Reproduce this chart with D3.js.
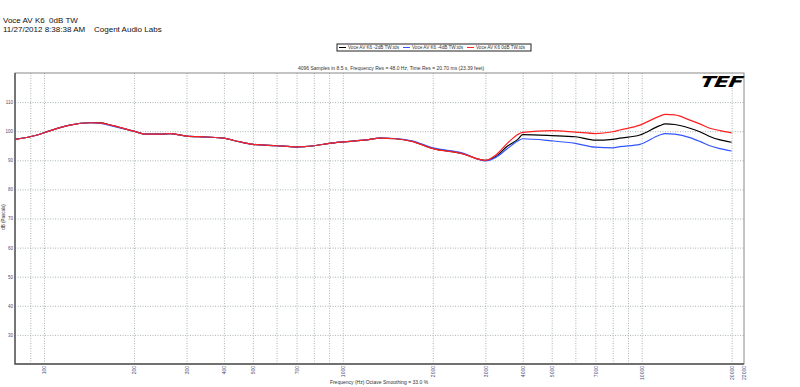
<!DOCTYPE html>
<html>
<head>
<meta charset="utf-8">
<script src="https://cdn.jsdelivr.net/npm/d3@7"></script>
<style>
  body { margin: 0; background: #fff; }
  svg { display: block; font-family: "Liberation Sans", Arial, sans-serif; }
</style>
</head>
<body>
<div id="chart"></div>
<script>
// frequency points (Hz) shared by the three traces
var freqs = [80, 95, 105, 122, 143, 155, 166, 200, 218, 245, 264, 300, 350, 400, 450, 500,
  600, 700, 800, 900, 1000, 1200, 1330, 1500, 1700, 2000, 2500, 3000, 3250, 3550, 3850,
  4000, 5000, 6000, 7000, 8000, 8450, 9860, 11500, 12000, 12900, 14500, 15650, 16900, 18300, 20000];

var red = [97.2, 98.7, 100.2, 102.1, 102.9, 102.8, 102.2, 100.0, 99.0, 99.0, 99.2, 98.3, 98.0, 97.6, 96.4, 95.5,
  95.0, 94.6, 95.0, 95.8, 96.3, 97.0, 97.6, 97.4, 96.5, 94.0, 92.3, 90.0, 91.8, 95.8, 98.9,
  99.6, 100.2, 99.7, 99.2, 99.8, 100.4, 102.1, 105.2, 105.8, 105.6, 103.8, 102.5, 101.0, 100.2, 99.4];

var black = [97.2, 98.7, 100.2, 102.1, 102.9, 102.9, 102.2, 100.0, 99.0, 99.0, 99.2, 98.3, 98.0, 97.6, 96.4, 95.5,
  95.0, 94.6, 95.0, 95.8, 96.3, 97.0, 97.6, 97.4, 96.6, 94.1, 92.4, 90.0, 91.3, 94.8, 97.2,
  98.8, 98.5, 98.1, 96.9, 97.2, 97.6, 98.7, 101.9, 102.5, 102.3, 101.0, 99.8, 98.2, 97.0, 96.2];

var blue = [97.2, 98.7, 100.2, 102.1, 102.9, 102.7, 102.0, 100.0, 99.0, 99.0, 99.2, 98.3, 98.0, 97.6, 96.4, 95.5,
  95.0, 94.6, 95.0, 95.8, 96.3, 97.0, 97.6, 97.5, 96.7, 94.3, 92.6, 89.8, 91.0, 94.0, 96.6,
  97.4, 96.7, 95.8, 94.5, 94.3, 94.7, 95.5, 98.7, 99.2, 99.0, 97.8, 96.5, 95.0, 94.0, 93.2];

var seriesNames = ["Voce AV K6 -2dB TW.tds", "Voce AV K6 -4dB TW.tds", "Voce AV K6 0dB TW.tds"];
var seriesColors = ["#000000", "#3355ff", "#ff2020"];

var xLabelTicks = [100, 200, 300, 400, 500, 700, 1000, 2000, 3000, 4000, 5000, 7000, 10000, 20000, 22000];
var xGridTicks = [90, 100, 200, 300, 400, 500, 600, 700, 800, 900, 1000, 2000, 3000, 4000, 5000,
  6000, 7000, 8000, 9000, 10000, 20000];
var yTicks = [30, 40, 50, 60, 70, 80, 90, 100, 110];

var W = 800, H = 387;
var plotL = 15, plotR = 744, plotT = 73, plotB = 364;

var svg = d3.select('#chart')
  .append('svg')
    .attr('width', W)
    .attr('height', H);

var x = d3.scaleLog().domain([80, 22000]).range([plotL, plotR]);
var y = d3.scaleLinear().domain([20, 120]).range([plotB, plotT]);

// header text
svg.append('text').attr('x', 3).attr('y', 23).attr('font-size', 8).attr('fill', '#111')
  .text('Voce AV K6\u00a0\u00a00dB TW');
svg.append('text').attr('x', 3).attr('y', 31.5).attr('font-size', 8).attr('fill', '#111')
  .text('11/27/2012 8:38:38 AM\u00a0\u00a0\u00a0\u00a0Cogent Audio Labs');

// legend
var legend = svg.append('g');
legend.append('rect')
  .attr('x', 337).attr('y', 44).attr('width', 194).attr('height', 7)
  .attr('fill', '#fff').attr('stroke', '#222').attr('stroke-width', 1);
var itemX = [339, 403, 467];
seriesNames.forEach(function (name, i) {
  legend.append('line')
    .attr('x1', itemX[i]).attr('x2', itemX[i] + 7)
    .attr('y1', 47.5).attr('y2', 47.5)
    .attr('stroke', seriesColors[i]).attr('stroke-width', 1);
  legend.append('text')
    .attr('x', itemX[i] + 9).attr('y', 49.4)
    .attr('font-size', 4.8).attr('fill', '#333')
    .attr('textLength', i == 2 ? 49 : 51).attr('lengthAdjust', 'spacingAndGlyphs')
    .text(name);
});

// subtitle
svg.append('text').attr('x', 391).attr('y', 69.5).attr('text-anchor', 'middle')
  .attr('font-size', 5).attr('fill', '#333')
  .text('4096 Samples in 8.5 s, Frequency Res = 48.0 Hz, Time Res = 20.70 ms (23.39 feet)');

// grid
svg.append('g')
  .attr('transform', 'translate(0,' + plotB + ')')
  .call(d3.axisBottom(x).tickValues(xGridTicks).tickSize(-(plotB - plotT)).tickFormat(''))
  .call(function (g) {
    g.select('.domain').remove();
    g.selectAll('line').attr('stroke', '#aab4b4').attr('stroke-dasharray', '1,1.5');
  });
svg.append('g')
  .attr('transform', 'translate(' + plotL + ',0)')
  .call(d3.axisLeft(y).tickValues(yTicks).tickSize(-(plotR - plotL)).tickFormat(''))
  .call(function (g) {
    g.select('.domain').remove();
    g.selectAll('line').attr('stroke', '#aab4b4').attr('stroke-dasharray', '1,1.5');
  });

// frame
svg.append('rect')
  .attr('x', plotL).attr('y', plotT).attr('width', plotR - plotL).attr('height', plotB - plotT)
  .attr('fill', 'none').attr('stroke', '#8a8a8a').attr('stroke-width', 1);
svg.append('path')
  .attr('d', 'M' + plotL + ',' + plotT + 'V' + plotB + 'H' + plotR)
  .attr('fill', 'none').attr('stroke', '#555').attr('stroke-width', 1.4);

// tick labels
svg.append('g')
  .attr('transform', 'translate(0,' + plotB + ')')
  .call(d3.axisBottom(x).tickValues(xLabelTicks).tickSize(0).tickFormat(d3.format('d')))
  .call(function (g) {
    g.select('.domain').remove();
    g.selectAll('text')
      .attr('font-size', 5).attr('fill', '#4a4a78').attr('font-family', null)
      .attr('text-anchor', 'end')
      .attr('transform', 'rotate(-90)')
      .attr('x', -2).attr('y', 0).attr('dy', '0.35em');
  });
svg.append('g')
  .attr('transform', 'translate(' + (plotL - 2) + ',0)')
  .call(d3.axisLeft(y).tickValues(yTicks).tickSize(0).tickFormat(d3.format('d')))
  .call(function (g) {
    g.select('.domain').remove();
    g.selectAll('text').attr('font-size', 4.5).attr('fill', '#4a4a78').attr('font-family', null).attr('x', 0);
  });

// axis titles
svg.append('text')
  .attr('transform', 'translate(4.5,217) rotate(-90)')
  .attr('text-anchor', 'middle').attr('font-size', 4.5).attr('fill', '#333')
  .text('dB (Pascals)');
svg.append('text')
  .attr('x', 379).attr('y', 384).attr('text-anchor', 'middle')
  .attr('font-size', 5).attr('fill', '#333')
  .text('Frequency (Hz) Octave Smoothing = 33.0 %');

// TEF logo
var logo = svg.append('g').attr('transform', 'translate(698,87) skewX(-25) scale(1.45,1)');
logo.append('text')
  .attr('x', 0).attr('y', 0)
  .attr('font-size', 15).attr('font-weight', 'bold')
  .attr('font-family', '"DejaVu Sans", sans-serif')
  .attr('fill', '#000').attr('letter-spacing', -0.5)
  .text('TEF');

// traces
var line = d3.line()
  .x(function (d) { return x(d[0]); })
  .y(function (d) { return y(d[1]); })
  .curve(d3.curveMonotoneX);

[black, blue, red].forEach(function (vals, i) {
  svg.append('path')
    .datum(freqs.map(function (f, j) { return [f, vals[j]]; }))
    .attr('d', line)
    .attr('fill', 'none')
    .attr('stroke', seriesColors[i])
    .attr('stroke-width', 1.2);
});
</script>
</body>
</html>
